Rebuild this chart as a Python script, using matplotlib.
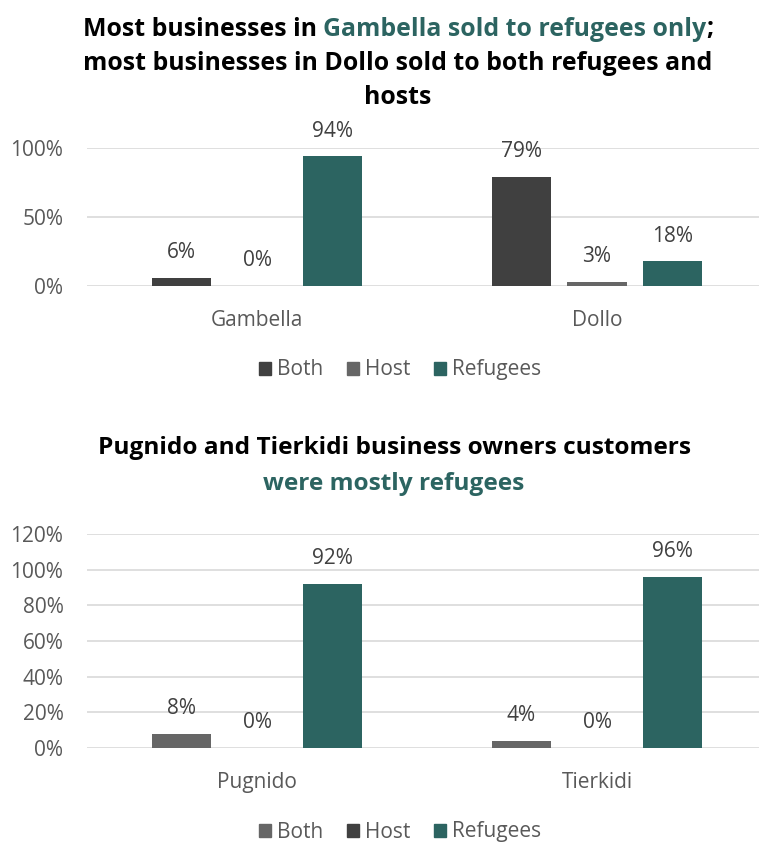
import matplotlib.pyplot as plt
from matplotlib.patches import Patch

plt.rcParams['font.family'] = ['Open Sans', 'DejaVu Sans']

# datos de los dos graficos
regiones = ["Gambella", "Dollo"]
both_top = [6, 79]
host_top = [0, 3]
ref_top = [94, 18]

campos = ["Pugnido", "Tierkidi"]
both_bot = [8, 4]
host_bot = [0, 0]
ref_bot = [92, 96]

series = ["Both", "Host", "Refugees"]

OSCURO = "#404040"
MEDIO = "#666666"
VERDE = "#2c6461"
GRIS_TXT = "#595959"
FS = 15

fig = plt.figure(figsize=(7.59, 8.43), dpi=100)
W, H = 759, 843


def titulo(lineas, y0, paso, size=17.6, centro=395):
    # cada linea es una lista de (texto, color), centrada en x = centro
    fig.canvas.draw()
    rend = fig.canvas.get_renderer()
    for i, partes in enumerate(lineas):
        y = 1 - (y0 + i * paso) / H
        textos = []
        total = 0
        for txt, col in partes:
            t = fig.text(0, y, txt, color=col, fontsize=size, fontweight="bold",
                         va="center", ha="left")
            bb = t.get_window_extent(renderer=rend)
            textos.append((t, bb.width))
            total += bb.width
        x = centro - total / 2
        for t, w in textos:
            t.set_x(x / W)
            x += w


def barras(ax, cats, valores, colores, ymax, paso_y):
    ancho = 0.176
    sep = 0.222
    for i, (vals, col) in enumerate(zip(valores, colores)):
        xs = [c + (i - 1) * sep for c in range(len(cats))]
        bs = ax.bar(xs, vals, width=ancho, color=col, zorder=3)
        for b, v in zip(bs, vals):
            ax.annotate(f"{v}%", (b.get_x() + b.get_width() / 2, v),
                        xytext=(0, 18), textcoords="offset points",
                        ha="center", va="center", fontsize=FS, color=OSCURO)
    ax.set_xlim(-0.5, 1.5)
    ax.set_ylim(0, ymax)
    ax.set_yticks(range(0, ymax + 1, paso_y))
    ax.set_yticklabels([f"{v}%" for v in range(0, ymax + 1, paso_y)])
    ax.set_xticks(range(len(cats)))
    ax.set_xticklabels(cats)
    ax.tick_params(axis="both", length=0, labelsize=FS, labelcolor=GRIS_TXT)
    ax.tick_params(axis="x", pad=17)
    ax.tick_params(axis="y", pad=17)
    ax.grid(axis="y", color="#d9d9d9", linewidth=1.2, zorder=0)
    for s in ax.spines.values():
        s.set_visible(False)


def leyenda(colores, y):
    hs = [Patch(color=c, label=s) for c, s in zip(colores, series)]
    fig.legend(handles=hs, loc="center", bbox_to_anchor=(400 / W, 1 - y / H), ncol=3,
               frameon=False, fontsize=FS, labelcolor=GRIS_TXT, handlelength=0.6,
               handleheight=0.6, handletextpad=0.3, columnspacing=1.1)


# grafico de arriba
ax1 = fig.add_axes([87 / W, 1 - 286 / H, 680 / W, 138 / H])
barras(ax1, regiones, [both_top, host_top, ref_top], [OSCURO, MEDIO, VERDE], 100, 50)
leyenda([OSCURO, MEDIO, VERDE], 370)

# grafico de abajo
ax2 = fig.add_axes([87 / W, 1 - 748 / H, 680 / W, 214 / H])
barras(ax2, campos, [both_bot, host_bot, ref_bot], [MEDIO, OSCURO, VERDE], 120, 20)
leyenda([MEDIO, OSCURO, VERDE], 832)

titulo([
    [("Most businesses in ", "black"), ("Gambella sold to refugees only", VERDE), (";", "black")],
    [("most businesses in Dollo sold to both refugees and", "black")],
    [("hosts", "black")],
], 29, 34, size=17.9, centro=398)

titulo([
    [("Pugnido and Tierkidi business owners customers", "black")],
    [("were mostly refugees", VERDE)],
], 448, 36, centro=394)

fig.savefig("out.png", dpi=100)
